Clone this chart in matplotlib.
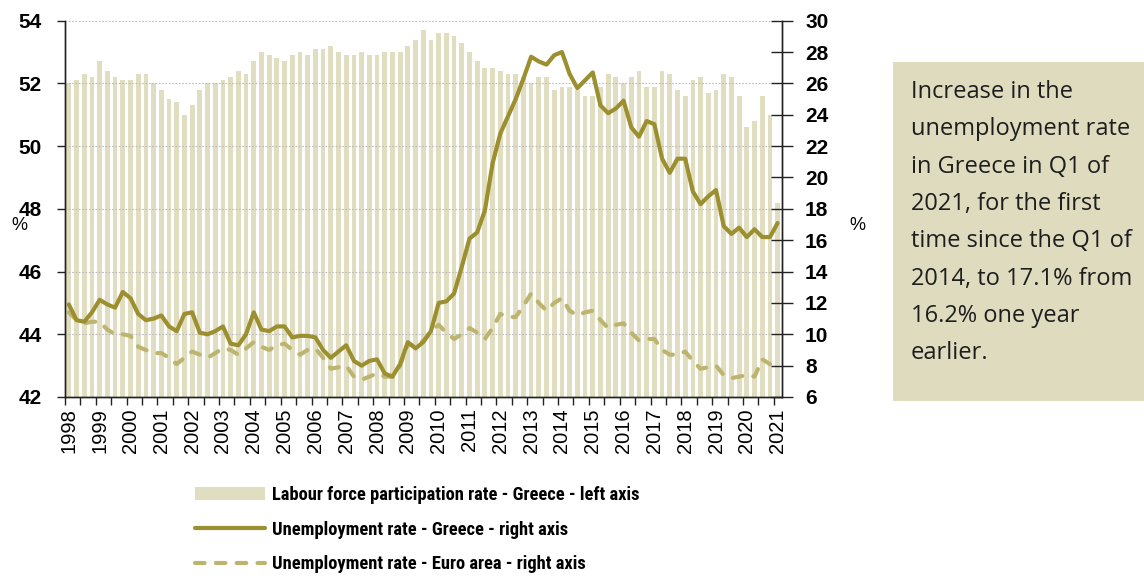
import numpy as np
import matplotlib
matplotlib.use("Agg")
import matplotlib.pyplot as plt
from matplotlib import font_manager as fm
from matplotlib.patches import Patch, Rectangle
from matplotlib.lines import Line2D

years = [str(y) for y in range(1998, 2022)]

lfp_greece = [52.0, 52.1, 52.3, 52.2, 52.7, 52.4, 52.2, 52.1, 52.1, 52.3, 52.3, 52.0,
              51.8, 51.5, 51.4, 51.0, 51.3, 51.8, 52.0, 52.0, 52.1, 52.2, 52.4, 52.3,
              52.7, 53.0, 52.9, 52.8, 52.7, 52.9, 53.0, 52.9, 53.1, 53.1, 53.2, 53.0,
              52.9, 52.9, 53.0, 52.9, 52.9, 53.0, 53.0, 53.0, 53.2, 53.4, 53.7, 53.4,
              53.6, 53.6, 53.5, 53.3, 53.0, 52.7, 52.5, 52.5, 52.4, 52.3, 52.3, 52.2,
              52.0, 52.2, 52.2, 51.8, 51.9, 51.9, 51.8, 51.6, 51.6, 51.9, 52.3, 52.2,
              52.0, 52.2, 52.4, 51.9, 51.9, 52.4, 52.3, 51.8, 51.6, 52.1, 52.2, 51.7,
              51.8, 52.3, 52.2, 51.6, 50.6, 50.8, 51.6, 51.0, 48.2]

unemp_greece = [11.9, 10.9, 10.8, 11.4, 12.2, 11.9, 11.7, 12.7, 12.3, 11.3, 10.9, 11.0,
                11.2, 10.5, 10.2, 11.3, 11.4, 10.1, 10.0, 10.2, 10.5, 9.4, 9.3, 10.0,
                11.4, 10.3, 10.2, 10.5, 10.5, 9.8, 9.9, 9.9, 9.8, 9.0, 8.5, 8.9,
                9.3, 8.3, 8.0, 8.3, 8.4, 7.5, 7.3, 8.1, 9.5, 9.1, 9.5, 10.2,
                12.0, 12.1, 12.6, 14.3, 16.1, 16.5, 17.9, 20.9, 22.8, 23.9, 25.0, 26.3,
                27.7, 27.4, 27.2, 27.8, 28.0, 26.6, 25.7, 26.2, 26.7, 24.6, 24.1, 24.4,
                24.9, 23.2, 22.6, 23.6, 23.4, 21.2, 20.3, 21.2, 21.2, 19.1, 18.3, 18.8,
                19.2, 16.9, 16.4, 16.8, 16.2, 16.7, 16.2, 16.2, 17.1]

unemp_euro = [11.4, 10.9, 10.7, 10.8, 10.8, 10.3, 10.0, 10.0, 9.9, 9.2, 9.0, 8.8,
              8.8, 8.5, 8.1, 8.5, 8.9, 8.7, 8.5, 8.8, 9.1, 9.0, 8.7, 9.1,
              9.5, 9.2, 9.0, 9.3, 9.4, 9.0, 8.7, 9.0, 9.1, 8.5, 7.8, 7.9,
              8.0, 7.3, 7.1, 7.3, 7.5, 7.3, 7.3, 8.0, 9.4, 9.2, 9.6, 10.2,
              10.6, 10.1, 9.7, 10.0, 10.4, 10.1, 9.7, 10.4, 11.3, 11.1, 11.1, 11.8,
              12.6, 12.0, 11.5, 12.0, 12.3, 11.5, 11.2, 11.4, 11.5, 10.9, 10.4, 10.6,
              10.7, 10.1, 9.6, 9.7, 9.7, 9.0, 8.7, 8.7, 8.9, 8.3, 7.8, 7.9,
              8.0, 7.4, 7.2, 7.3, 7.4, 7.3, 8.4, 8.1, np.nan]

legend_labels = ["Labour force participation rate - Greece - left axis",
                 "Unemployment rate - Greece - right axis",
                 "Unemployment rate - Euro area - right axis"]

note_lines = ["Increase in the", "unemployment rate", "in Greece in Q1 of",
              "2021, for the first", "time since the Q1 of", "2014, to 17.1% from",
              "16.2% one year", "earlier."]

BAR_C = "#E1DDC1"
GR_C = "#9C8F2F"
EU_C = "#BDB56F"
BOX_C = "#DEDBBF"


def first_font(names):
    for n in names:
        try:
            fm.findfont(fm.FontProperties(family=n), fallback_to_default=False)
            return n
        except Exception:
            continue
    return None


narrow = first_font(["Liberation Sans Narrow", "Roboto Condensed", "DejaVu Sans Condensed",
                     "Open Sans Condensed", "Arial Narrow"])
if narrow is not None:
    leg_prop = dict(family=narrow, weight="bold", size=13.3)
else:
    leg_prop = dict(family="Liberation Sans", weight="bold", size=11.2)
fs_px = leg_prop["size"] * 100 / 72

W, H = 1144, 579
fig = plt.figure(figsize=(W / 100, H / 100), dpi=100)
L, R, T, B = 65, 781.5, 20.7, 397
ax = fig.add_axes([L / W, 1 - B / H, (R - L) / W, (B - T) / H])
ax2 = ax.twinx()

x = np.arange(len(lfp_greece))
ax.bar(x, lfp_greece, width=0.62, color=BAR_C, zorder=1)
ax.set_ylim(42, 54)
ax.set_xlim(-0.5, len(x) - 0.5)
ax.set_yticks(np.arange(42, 55, 2))
ax.yaxis.grid(True, color="#BBBBBB", linestyle=(0, (1.5, 1.5)), linewidth=0.8, zorder=2)
ax.set_axisbelow(False)

ax2.plot(x, unemp_euro, color=EU_C, lw=3.0, dashes=(2.3, 2.7),
         dash_capstyle="round", solid_capstyle="round", zorder=3)
ax2.plot(x, unemp_greece, color=GR_C, lw=3.0, solid_joinstyle="round",
         solid_capstyle="round", zorder=4)
ax2.set_ylim(6, 30)
ax2.set_yticks(np.arange(6, 31, 2))

for a in (ax, ax2):
    a.spines["top"].set_visible(False)
    for s in ("left", "right", "bottom"):
        a.spines[s].set_linewidth(1.0)
        a.spines[s].set_color("#222222")

tick_font = dict(family="Liberation Sans", weight="bold", size=15)
ax.tick_params(axis="y", direction="out", length=6, width=1, pad=11, color="#222222")
ax2.tick_params(axis="y", direction="inout", length=16, width=1, pad=9, color="#222222")
for lab in ax.get_yticklabels() + ax2.get_yticklabels():
    lab.set_fontproperties(fm.FontProperties(**tick_font))

ax.set_xticks(np.arange(-0.5, len(x), 2), minor=True)
ax.tick_params(axis="x", which="minor", direction="out", length=6, width=1, color="#222222")
ax.set_xticks(np.arange(0, len(x), 4))
ax.set_xticklabels(years, rotation=90, family="Liberation Sans", size=14.5)
ax.tick_params(axis="x", which="major", length=0, pad=8)

fig.text(19.5 / W, 1 - 226 / H, "%", ha="center", va="center", family="Liberation Sans", size=13)
fig.text(857 / W, 1 - 226 / H, "%", ha="center", va="center", family="Liberation Sans", size=13)

handles = [Patch(facecolor=BAR_C, edgecolor="none"),
           Line2D([], [], color=GR_C, lw=3.0, solid_capstyle="round"),
           Line2D([], [], color=EU_C, lw=3.0, dashes=(2.3, 2.7), dash_capstyle="round")]
fig.legend(handles, legend_labels, loc="upper left", bbox_to_anchor=(186 / W, 1 - 477 / H),
           frameon=False, borderpad=0, handlelength=70 / fs_px,
           handletextpad=7 / fs_px, labelspacing=0.9, prop=leg_prop)

fig.patches.append(Rectangle((893 / W, 1 - 401 / H), (W - 893) / W, (401 - 62) / H,
                             transform=fig.transFigure, facecolor=BOX_C, edgecolor="none"))
for i, line in enumerate(note_lines):
    fig.text(911 / W, 1 - (92 + 37.3 * i) / H, line, ha="left", va="center",
             family="Open Sans", size=17, color="#1E1E1E")

fig.savefig("out.png", dpi=100)
